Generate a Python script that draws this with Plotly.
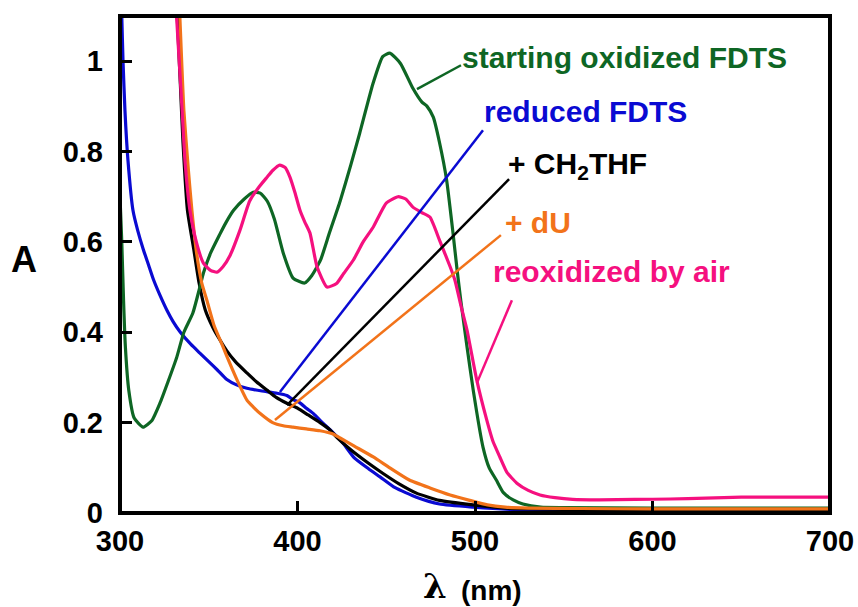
import plotly.graph_objects as go

# ---------------- data ----------------
green_x = [300, 301, 302, 303, 305, 308, 313, 318, 322.5, 327, 332, 336, 341, 345, 347, 351, 356, 360, 364, 370, 375, 379, 383, 387, 392, 397.5, 404, 408, 413, 418, 424, 430, 435, 442.5, 448, 452, 458, 465, 470, 473, 476.5, 480, 484, 487.6, 490, 492, 495.5, 499, 504.5, 508, 512, 516, 521.5, 527, 537, 550, 600, 650, 700]
green_y = [0.70, 0.6, 0.47, 0.37, 0.27, 0.21, 0.19, 0.205, 0.243, 0.29, 0.345, 0.4, 0.442, 0.5, 0.531, 0.575, 0.615, 0.645, 0.67, 0.695, 0.71, 0.708, 0.69, 0.65, 0.575, 0.52, 0.509, 0.525, 0.56, 0.62, 0.69, 0.77, 0.84, 0.95, 1.01, 1.018, 0.995, 0.94, 0.91, 0.9, 0.876, 0.82, 0.737, 0.62, 0.535, 0.47, 0.368, 0.272, 0.146, 0.1, 0.073, 0.045, 0.029, 0.02, 0.013, 0.012, 0.011, 0.011, 0.011]

blue_x = [300, 301, 301.7, 302.8, 304.5, 307.3, 310, 313, 316, 319, 322.5, 326.5, 330, 334, 340, 345, 350, 355, 360, 366, 371.5, 380, 388.5, 394, 397.5, 401, 405, 409, 414, 420, 425.6, 432, 440, 446.5, 455, 467, 480, 499, 520, 550, 600, 700]
blue_y = [1.25, 1.1, 1.0, 0.89, 0.78, 0.67, 0.625, 0.585, 0.55, 0.515, 0.482, 0.448, 0.423, 0.4, 0.373, 0.354, 0.335, 0.316, 0.296, 0.283, 0.276, 0.27, 0.265, 0.26, 0.251, 0.245, 0.232, 0.22, 0.2, 0.178, 0.155, 0.122, 0.098, 0.08, 0.056, 0.035, 0.02, 0.013, 0.008, 0.006, 0.006, 0.006]

black_x = [332, 334, 335.5, 338, 341.7, 344.5, 348, 352.4, 356, 360, 365, 371.5, 377, 382.8, 388, 394, 400, 406, 412.7, 418, 422, 430, 440, 448, 457, 467, 480, 499, 520, 550, 600, 700]
black_y = [1.12, 0.95, 0.82, 0.67, 0.58, 0.51, 0.45, 0.41, 0.385, 0.36, 0.335, 0.31, 0.29, 0.272, 0.256, 0.243, 0.232, 0.217, 0.2, 0.185, 0.168, 0.14, 0.11, 0.088, 0.065, 0.044, 0.028, 0.018, 0.01, 0.008, 0.008, 0.008]

orange_x = [333.5, 336, 338.5, 340.5, 343, 346, 349, 353, 358, 362, 366, 371.5, 375, 379, 386, 392, 397.5, 405, 412.7, 420, 424, 432, 442.7, 452, 463, 475, 486, 497, 507, 517, 530, 560, 600, 700]
orange_y = [1.12, 0.89, 0.76, 0.67, 0.58, 0.51, 0.47, 0.415, 0.368, 0.33, 0.294, 0.25, 0.235, 0.22, 0.2, 0.193, 0.19, 0.186, 0.182, 0.175, 0.166, 0.148, 0.124, 0.1, 0.073, 0.055, 0.04, 0.028, 0.018, 0.013, 0.011, 0.01, 0.009, 0.009]

pink_x = [331, 332, 335, 336.6, 339.4, 343, 347, 351, 354.6, 358, 362, 367.6, 373, 378, 382.8, 386, 390, 393, 395.8, 398.5, 401.4, 404, 407, 411, 416.6, 422, 426, 431.5, 437, 442.7, 450, 456.6, 461, 465, 470, 474.6, 480, 486, 488.7, 492, 495.5, 501, 506.6, 510, 514, 518, 523.6, 530, 536.6, 545, 555, 570, 590, 610, 630, 650, 700]
pink_y = [1.15, 1.09, 0.89, 0.78, 0.67, 0.6, 0.553, 0.537, 0.533, 0.545, 0.57, 0.626, 0.69, 0.72, 0.743, 0.758, 0.77, 0.765, 0.743, 0.71, 0.67, 0.645, 0.62, 0.545, 0.5, 0.508, 0.53, 0.56, 0.6, 0.633, 0.686, 0.70, 0.695, 0.677, 0.665, 0.655, 0.604, 0.545, 0.515, 0.46, 0.405, 0.294, 0.206, 0.16, 0.124, 0.09, 0.066, 0.05, 0.04, 0.034, 0.03, 0.029, 0.03, 0.031, 0.033, 0.035, 0.035]

x_ticks = [300, 400, 500, 600, 700]
y_ticks = [0, 0.2, 0.4, 0.6, 0.8, 1]
y_tick_text = ["0", "0.2", "0.4", "0.6", "0.8", "1"]

labels = ["starting oxidized FDTS", "reduced FDTS", "+ CH<sub>2</sub>THF", "+ dU", "reoxidized by air"]
label_colors = ["#0e6624", "#0a0ad2", "#000000", "#f2731a", "#f5107f"]
# label anchor (left, middle) in data units
label_x = [491.8, 504.0, 517.4, 515.8, 508.8]
label_y = [1.009, 0.889, 0.770, 0.644, 0.535]
# leader lines: (x0, y0) on curve -> (x1, y1) near label
leader_x0 = [467.3, 390.1, 394.1, 387.3, 501.1]
leader_y0 = [0.938, 0.268, 0.239, 0.206, 0.288]
leader_x1 = [492.1, 504.5, 519.2, 514.6, 520.8]
leader_y1 = [0.991, 0.847, 0.739, 0.615, 0.471]

GREEN, BLUE, BLACK, ORANGE, PINK = label_colors

fig = go.Figure()
series = [
    (blue_x, blue_y, BLUE),
    (black_x, black_y, BLACK),
    (green_x, green_y, GREEN),
    (orange_x, orange_y, ORANGE),
    (pink_x, pink_y, PINK),
]
for xs, ys, c in series:
    fig.add_trace(go.Scatter(x=xs, y=ys, mode="lines",
                             line=dict(color=c, width=3.2, shape="spline", smoothing=0.5),
                             showlegend=False, hoverinfo="skip"))

for i in range(len(labels)):
    fig.add_shape(type="line", xref="x", yref="y",
                  x0=leader_x0[i], y0=leader_y0[i], x1=leader_x1[i], y1=leader_y1[i],
                  line=dict(color=label_colors[i], width=2.5))
    fig.add_annotation(x=label_x[i], y=label_y[i], xref="x", yref="y",
                       text=labels[i], showarrow=False, xanchor="left", yanchor="middle",
                       font=dict(family="Liberation Sans", size=30, color=label_colors[i], weight="bold"))

# frame around the plot area
fig.add_shape(type="rect", xref="paper", yref="paper", x0=0, x1=1, y0=0, y1=1,
              line=dict(color="black", width=4), layer="above")

# axis titles
fig.add_annotation(x=-0.135, y=0.511, xref="paper", yref="paper", text="A", showarrow=False,
                   xanchor="center", yanchor="middle",
                   font=dict(family="Liberation Sans", size=36, color="black", weight="bold"))
fig.add_annotation(x=0.4437, y=-0.146, xref="paper", yref="paper", text="λ", showarrow=False,
                   xanchor="center", yanchor="middle",
                   font=dict(family="DejaVu Serif", size=34, color="black", weight="bold"))
fig.add_annotation(x=0.523, y=-0.156, xref="paper", yref="paper", text="(nm)", showarrow=False,
                   xanchor="center", yanchor="middle",
                   font=dict(family="Liberation Sans", size=28, color="black", weight="bold"))

axis_common = dict(showline=False, automargin=False,
                   ticks="inside", ticklen=12, tickwidth=3, tickcolor="black",
                   showgrid=False, zeroline=False,
                   tickfont=dict(family="Liberation Sans", size=29, color="black", weight="bold"))

fig.update_xaxes(range=[300, 700], tickvals=x_ticks, ticktext=[str(v) for v in x_ticks],
                 ticklabelstandoff=8, **axis_common)
fig.update_yaxes(range=[0, 1.1], tickvals=y_ticks, ticktext=y_tick_text,
                 ticklabelstandoff=16, **axis_common)

fig.update_layout(width=858, height=607, margin=dict(l=120, r=28, t=16, b=94, autoexpand=False),
                  plot_bgcolor="white", paper_bgcolor="white")

fig.write_html("out.html")
